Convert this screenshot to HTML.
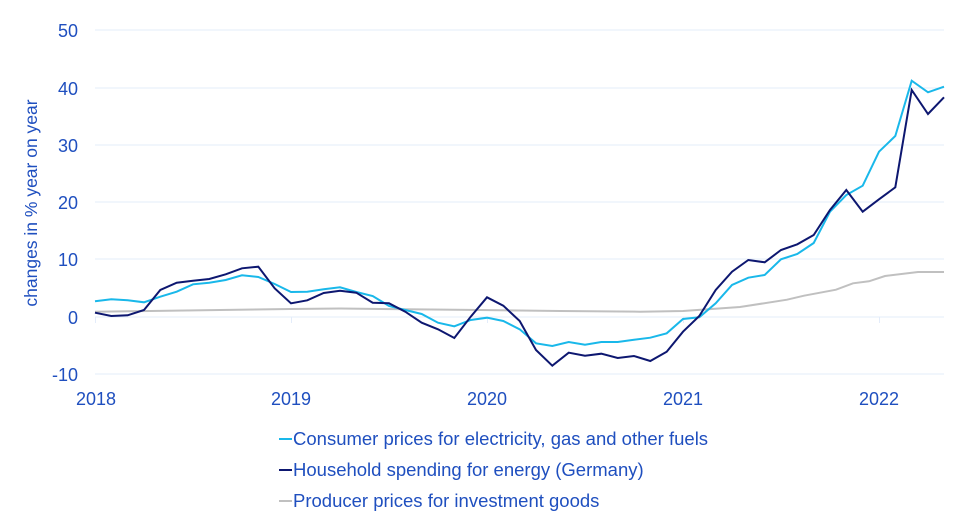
<!DOCTYPE html>
<html><head><meta charset="utf-8"><style>
html,body{margin:0;padding:0;background:#fff;}
svg{display:block;font-family:"Liberation Sans",sans-serif;}
</style></head><body>
<svg width="960" height="522" viewBox="0 0 960 522" xmlns="http://www.w3.org/2000/svg">
<g stroke="#e3ecfa" stroke-width="1">
<line x1="95" y1="30" x2="944" y2="30"/><line x1="95" y1="88" x2="944" y2="88"/>
<line x1="95" y1="145" x2="944" y2="145"/><line x1="95" y1="202" x2="944" y2="202"/>
<line x1="95" y1="259" x2="944" y2="259"/><line x1="95" y1="374" x2="944" y2="374"/>
<line x1="95" y1="317" x2="944" y2="317"/>
<line x1="95.5" y1="317" x2="95.5" y2="323"/><line x1="291.5" y1="317" x2="291.5" y2="323"/>
<line x1="487.5" y1="317" x2="487.5" y2="323"/><line x1="683.5" y1="317" x2="683.5" y2="323"/>
<line x1="879.5" y1="317" x2="879.5" y2="323"/>
</g>
<g fill="#1f4fbf" font-size="18" text-anchor="end">
<text x="78" y="37">50</text><text x="78" y="95">40</text><text x="78" y="152">30</text>
<text x="78" y="209">20</text><text x="78" y="266">10</text><text x="78" y="324">0</text><text x="78" y="381">-10</text>
</g>
<g fill="#1f4fbf" font-size="18" text-anchor="middle">
<text x="96" y="405">2018</text><text x="291" y="405">2019</text><text x="487" y="405">2020</text>
<text x="683" y="405">2021</text><text x="879" y="405">2022</text>
</g>
<text transform="translate(37,203) rotate(-90)" fill="#1f4fbf" font-size="17.5" text-anchor="middle">changes in % year on year</text>
<polyline fill="none" stroke="#c0c0c0" stroke-width="2" points="95,311.7 150,311 290,309 340,308.5 480,310 560,311 640,311.7 683,311 740,307 787,299.7 804,295.7 836,289.7 853,283.3 869,281.3 885,276 918,272 944,272"/>
<polyline fill="none" stroke="#19b8ea" stroke-width="2" points="95,301.3 111.3,299.3 127.7,300.3 144,302.3 160.3,296.7 176.7,291.7 193,284.3 209.3,282.7 225.7,280 242,275.3 258.3,277 274.7,284 291,292 307.3,291.7 323.7,289.3 340,287.3 356.3,292 372.7,296 389,306 405.3,310 421.7,314 438,322.7 454.3,326.3 470.7,320 487,317.7 503.3,321 519.7,329.3 536,343.3 552.3,346 568.7,342 585,344.7 601.3,342 617.7,342 634,339.7 650.3,337.7 666.7,333.3 683,319 699.3,317.3 715.7,303.3 732,285 748.3,277.7 764.7,275 781,259.3 797.3,254 813.7,243 830,211.7 846.3,195 862.7,185.7 879,151.7 895.3,136 911.7,80.7 928,92.3 944,86.7"/>
<polyline fill="none" stroke="#0d1770" stroke-width="2" points="95,312.7 111.3,316 127.7,315.3 144,310 160.3,290 176.7,282.7 193,280.7 209.3,279 225.7,274.3 242,268.3 258.3,266.7 274.7,288.3 291,303.3 307.3,300.3 323.7,293 340,290.7 356.3,292.7 372.7,302.7 389,303.3 405.3,311.7 421.7,322.7 438,329.3 454.3,338 470.7,316.7 487,297.3 503.3,305.7 519.7,321 536,350 552.3,365.7 568.7,352.7 585,355.7 601.3,353.7 617.7,358 634,356 650.3,361 666.7,351.7 683,331.7 699.3,316 715.7,290 732,271.7 748.3,260 764.7,262.3 781,250 797.3,244.3 813.7,235 830,210 846.3,190 862.7,211.7 879,199.3 895.3,187.3 911.7,90 928,114 944,97.3"/>
<g font-size="18.5" fill="#1f4fbf">
<line x1="279" y1="439" x2="292" y2="439" stroke="#19b8ea" stroke-width="2"/>
<text x="293" y="445">Consumer prices for electricity, gas and other fuels</text>
<line x1="279" y1="470" x2="292" y2="470" stroke="#0d1770" stroke-width="2"/>
<text x="293" y="476">Household spending for energy (Germany)</text>
<line x1="279" y1="501" x2="292" y2="501" stroke="#c0c0c0" stroke-width="2"/>
<text x="293" y="507">Producer prices for investment goods</text>
</g>
</svg>
</body></html>
